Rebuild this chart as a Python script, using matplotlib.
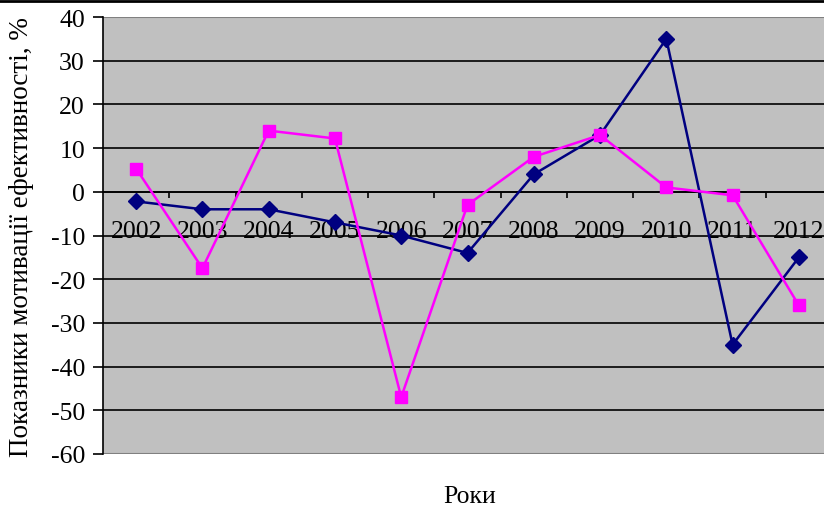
import matplotlib
matplotlib.use("Agg")
import matplotlib.pyplot as plt
from matplotlib.lines import Line2D

years = ["2002", "2003", "2004", "2005", "2006", "2007", "2008", "2009", "2010", "2011", "2012"]
series_navy = [-2.2, -4.0, -4.0, -7.0, -10.0, -14.0, 4.0, 13.0, 35.0, -35.0, -15.0]
series_pink = [5.3, -17.5, 14.0, 12.2, -47.0, -3.0, 8.0, 13.0, 1.0, -0.8, -26.0]
y_ticks = [40, 30, 20, 10, 0, -10, -20, -30, -40, -50, -60]

plt.rcParams["font.family"] = ["Liberation Serif", "DejaVu Serif"]

W, H = 824, 510
fig = plt.figure(figsize=(W / 100, H / 100), dpi=100)
ax = fig.add_axes([103 / W, 1 - 455 / H, (832 - 103) / W, (455 - 18) / H])
ax.set_facecolor("#C0C0C0")

x = list(range(len(years)))
ax.set_xlim(-0.5, len(years) - 0.5)
ax.set_ylim(-60, 40)

# horizontal gridlines
for v in y_ticks[1:-1]:
    ax.axhline(v, color="black", lw=1.2, zorder=1)
ax.axhline(40, color="#808080", lw=1.5, zorder=1)
ax.axhline(-60, color="#808080", lw=1.5, zorder=1)

ax.plot(x, series_navy, color="#000080", lw=1.8, marker="D", ms=8,
        markerfacecolor="#000080", markeredgecolor="#000080", zorder=3,
        clip_on=False)
ax.plot(x, series_pink, color="#FF00FF", lw=1.8, marker="s", ms=9,
        markerfacecolor="#FF00FF", markeredgecolor="#FF00FF", zorder=3,
        clip_on=False)

# category axis crosses at zero
for s in ["top", "right"]:
    ax.spines[s].set_visible(False)
ax.spines["bottom"].set_position(("data", 0))
ax.spines["bottom"].set_color("black")
ax.spines["bottom"].set_linewidth(1.2)
ax.spines["left"].set_color("black")
ax.spines["left"].set_linewidth(1.2)

ax.set_xticks([i + 0.5 for i in range(len(years) - 1)])
ax.set_xticklabels([])
ax.tick_params(axis="x", direction="out", length=4.3, width=1.2, color="black")

for i, yr in enumerate(years):
    ax.annotate(yr, xy=(i, 0), xytext=(0, -20), textcoords="offset points",
                ha="center", va="top", fontsize=18.5, color="black",
                annotation_clip=False, zorder=2)

ax.set_yticks(y_ticks)
ax.set_yticklabels([str(v) for v in y_ticks])
ax.tick_params(axis="y", direction="out", length=7, width=1.2, pad=6,
               labelsize=18.5, color="black")

fig.text(470 / W, 1 - 497 / H, "Роки", ha="center", va="center", fontsize=18.5)
fig.text(22 / W, 1 - 237 / H, "Показники мотивації ефективності, %",
         ha="center", va="center", rotation=90, fontsize=19.5)

fig.add_artist(Line2D([0, 1], [1 - 1.5 / H, 1 - 1.5 / H], color="black", lw=2,
                      transform=fig.transFigure))

fig.savefig("out.png", dpi=100, facecolor="white")
